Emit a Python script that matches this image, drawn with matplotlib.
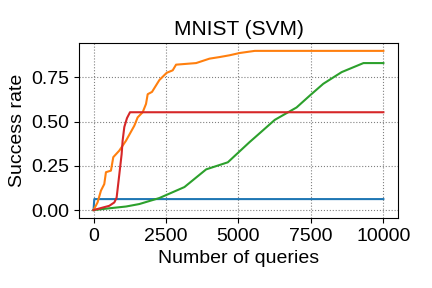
import matplotlib
matplotlib.use("Agg")
import matplotlib.pyplot as plt

plt.rcParams['font.family'] = ['Liberation Sans', 'DejaVu Sans']

# queries / success rate
blue_x = [0, 25, 10000]
blue_y = [0, 0.062, 0.062]

orange_x = [0, 138, 256, 370, 428, 600, 681, 888, 1119, 1407, 1522, 1695, 1810,
            1868, 2017, 2271, 2524, 2731, 2847, 3539, 4000, 4348, 4690, 5044,
            5563, 10000]
orange_y = [0, 0.043, 0.11, 0.147, 0.214, 0.223, 0.299, 0.336, 0.392, 0.477,
            0.524, 0.553, 0.60, 0.655, 0.668, 0.735, 0.776, 0.79, 0.822, 0.831,
            0.856, 0.865, 0.875, 0.888, 0.9, 0.9]

green_x = [0, 543, 1120, 1580, 2271, 3136, 3885, 4633, 5382, 5563, 6254, 7004,
           7466, 7927, 8562, 9312, 10000]
green_y = [0, 0.01, 0.02, 0.034, 0.068, 0.13, 0.23, 0.27, 0.384, 0.41, 0.51,
           0.58, 0.648, 0.714, 0.78, 0.831, 0.831]

red_x = [0, 543, 716, 796, 888, 969, 1003, 1062, 1154, 1258, 10000]
red_y = [0, 0.024, 0.043, 0.07, 0.2, 0.316, 0.392, 0.47, 0.52, 0.553, 0.553]

fig = plt.figure(figsize=(4.32, 2.88), dpi=100)
ax = fig.add_axes([0.183, 0.243, 0.738, 0.608])

ax.plot(blue_x, blue_y, color='tab:blue')
ax.plot(orange_x, orange_y, color='tab:orange')
ax.plot(green_x, green_y, color='tab:green')
ax.plot(red_x, red_y, color='tab:red')

ax.set_yticks([0, 0.25, 0.5, 0.75])
ax.set_xticks([0, 2500, 5000, 7500, 10000])
ax.grid(True, linestyle=':', color='gray')
ax.tick_params(labelsize=14)
ax.set_title('MNIST (SVM)', fontsize=15)
ax.set_xlabel('Number of queries', fontsize=14)
ax.set_ylabel('Success rate', fontsize=14)

fig.savefig('out.png', dpi=100)
